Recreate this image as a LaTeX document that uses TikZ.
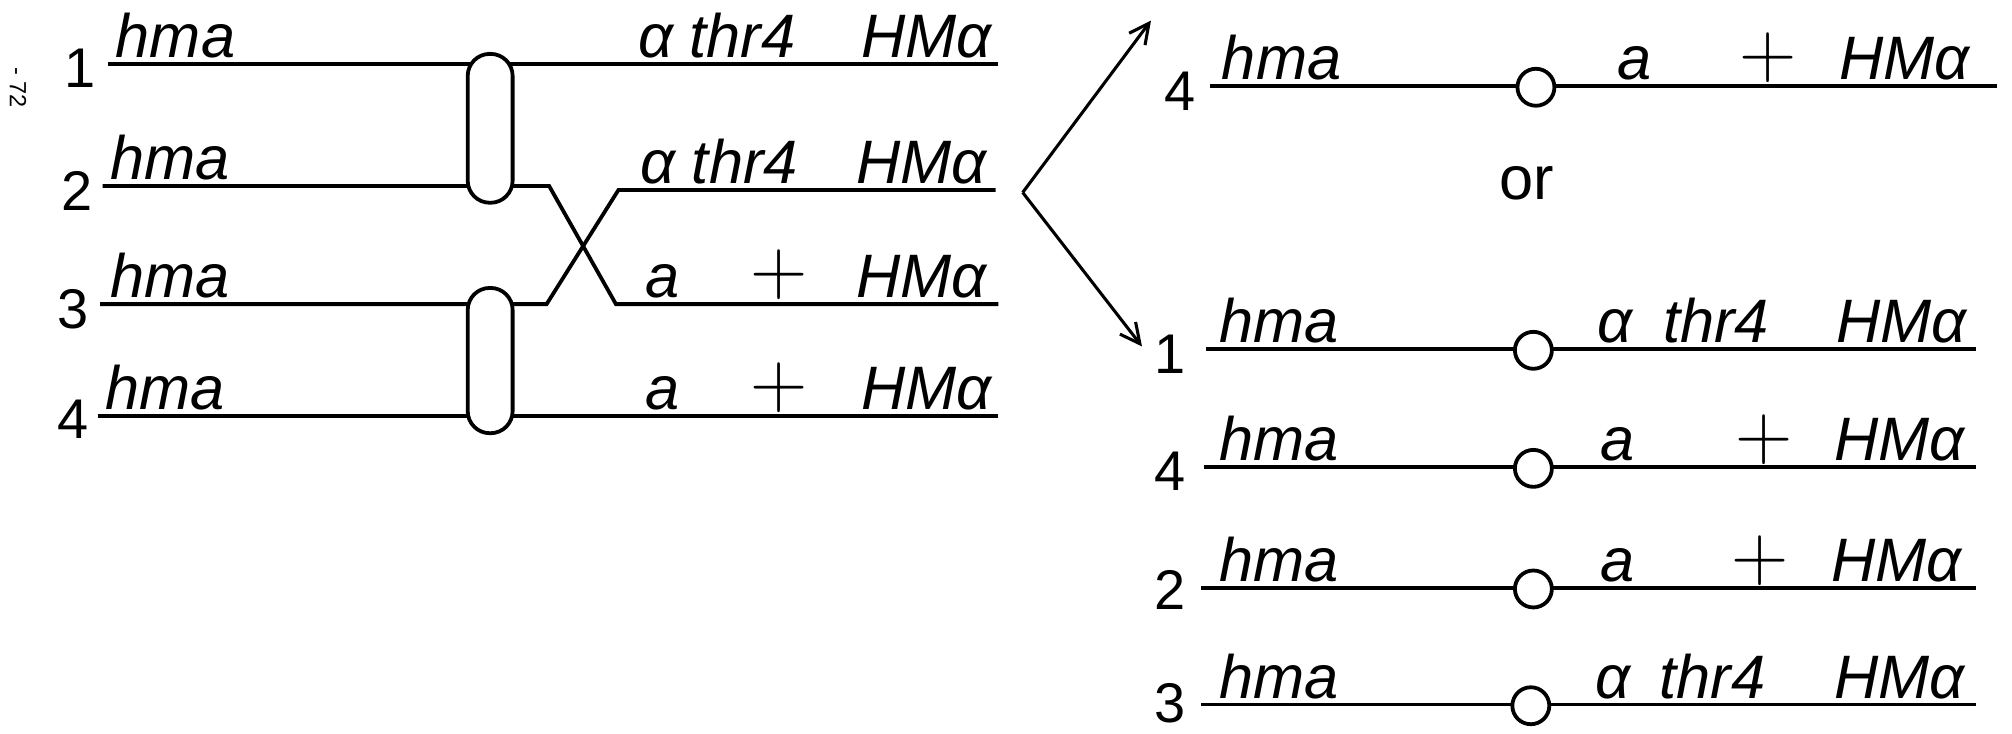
\documentclass[tikz,border=0pt]{standalone}
\usepackage{fontspec}
\newfontfamily\labf{Liberation Sans}
\usetikzlibrary{arrows.meta}
\begin{document}
\begin{tikzpicture}[x=0.025cm,y=-0.025cm,
  wire/.style={line width=2.1pt},
  lab/.style={font=\labf\itshape\fontsize{34}{34}\selectfont, anchor=base west, inner sep=0pt},
  num/.style={font=\labf\fontsize{31}{31}\selectfont, inner sep=0pt},
  plus/.style={font=\fontsize{44}{44}\selectfont, inner sep=0pt},
  ornode/.style={font=\labf\fontsize{34}{34}\selectfont, inner sep=0pt},
  oval/.style={draw, line width=2.1pt, fill=white, minimum width=0.875cm, rounded corners=0.43cm, inner sep=0pt},
  knot/.style={draw, line width=2.1pt, fill=white, circle, minimum size=0.72cm, inner sep=0pt},
  arr/.style={line width=1.7pt, -{Straight Barb[length=11pt,width=11pt,line width=1.7pt]}}
]
\fill[white] (0,0) rectangle (1568,572);
\useasboundingbox (0,0) rectangle (1568,572);

% page number
\node[font=\labf\fontsize{13}{13}\selectfont, rotate=-90, inner sep=0pt] (pg) at (14,68) {- 72};

% ---------------- left block ----------------
\coordinate (l1s) at (84,50);  \coordinate (l1e) at (778,50);
\coordinate (l2s) at (80,145); \coordinate (l2a) at (428,145); \coordinate (l2b) at (480,237); \coordinate (l2e) at (778,237);
\coordinate (l3s) at (78,237); \coordinate (l3a) at (426,237); \coordinate (l3b) at (482,148); \coordinate (l3e) at (776,148);
\coordinate (l4s) at (76,324); \coordinate (l4e) at (778,324);

\draw[wire] (l1s) -- (l1e);
\draw[wire] (l2s) -- (l2a) -- (l2b) -- (l2e);
\draw[wire] (l3s) -- (l3a) -- (l3b) -- (l3e);
\draw[wire] (l4s) -- (l4e);

\node[oval, minimum height=2.9cm] (ov1) at (382,100) {};
\node[oval, minimum height=2.83cm] (ov2) at (382,281) {};

\node[num] (n1) at (62,53) {1};
\node[num] (n2) at (60,149) {2};
\node[num] (n3) at (57,241) {3};
\node[num] (n4) at (57,327) {4};

\node[lab] (h1) at (90,45) {hma};
\node[lab] (h2) at (86,140) {hma};
\node[lab] (h3) at (86,232) {hma};
\node[lab] (h4) at (82,319) {hma};

\node[lab] (a1) at (497,45) {α};
\node[lab] (t1) at (537,45) {thr4};
\node[lab] (H1) at (671,45) {HMα};

\node[lab] (a2) at (499,143) {α};
\node[lab] (t2) at (539,143) {thr4};
\node[lab] (H2) at (667,143) {HMα};

\node[lab] (a3) at (503,232) {a};
\node[plus] (p3) at (607,214) {+};
\node[lab] (H3) at (667,232) {HMα};

\node[lab] (a4) at (503,319) {a};
\node[plus] (p4) at (607,302) {+};
\node[lab] (H4) at (671,319) {HMα};

% ---------------- arrows ----------------
\coordinate (apex) at (797,150);
\coordinate (tipU) at (897,16);
\coordinate (tipD) at (890,270);
\draw[arr] (apex) -- (tipU);
\draw[arr] (apex) -- (tipD);

% ---------------- right block ----------------
% row A (top): 4
\coordinate (rAs) at (943,67); \coordinate (rAe) at (1556,67);
\draw[wire] (rAs) -- (rAe);
\node[knot] (kA) at (1197,68) {};
\node[num] (nA) at (920,71) {4};
\node[lab] (hA) at (952,62) {hma};
\node[lab] (aA) at (1260,62) {a};
\node[plus] (pA) at (1378,45) {+};
\node[lab] (HA) at (1433,62) {HMα};

\node[ornode] (or) at (1190,143) {or};

% row B: 1
\coordinate (rBs) at (940,272); \coordinate (rBe) at (1540,272);
\draw[wire] (rBs) -- (rBe);
\node[knot] (kB) at (1195,273) {};
\node[num] (nB) at (912,276) {1};
\node[lab] (hB) at (950,267) {hma};
\node[lab] (aB) at (1245,267) {α};
\node[lab] (tB) at (1296,267) {thr4};
\node[lab] (HB) at (1431,267) {HMα};

% row C: 4
\coordinate (rCs) at (938,364); \coordinate (rCe) at (1540,364);
\draw[wire] (rCs) -- (rCe);
\node[knot] (kC) at (1195,365) {};
\node[num] (nC) at (912,367) {4};
\node[lab] (hC) at (950,359) {hma};
\node[lab] (aC) at (1247,359) {a};
\node[plus] (pC) at (1375,343) {+};
\node[lab] (HC) at (1429,359) {HMα};

% row D: 2
\coordinate (rDs) at (936,458); \coordinate (rDe) at (1540,458);
\draw[wire] (rDs) -- (rDe);
\node[knot] (kD) at (1195,459) {};
\node[num] (nD) at (912,460) {2};
\node[lab] (hD) at (950,453) {hma};
\node[lab] (aD) at (1247,453) {a};
\node[plus] (pD) at (1372,437) {+};
\node[lab] (HD) at (1427,453) {HMα};

% row E: 3
\coordinate (rEs) at (936,549); \coordinate (rEe) at (1540,549);
\draw[wire] (rEs) -- (rEe);
\node[knot] (kE) at (1193,550) {};
\node[num] (nE) at (912,548) {3};
\node[lab] (hE) at (950,544) {hma};
\node[lab] (aE) at (1243,544) {α};
\node[lab] (tE) at (1293,544) {thr4};
\node[lab] (HE) at (1429,544) {HMα};
\end{tikzpicture}
\end{document}
